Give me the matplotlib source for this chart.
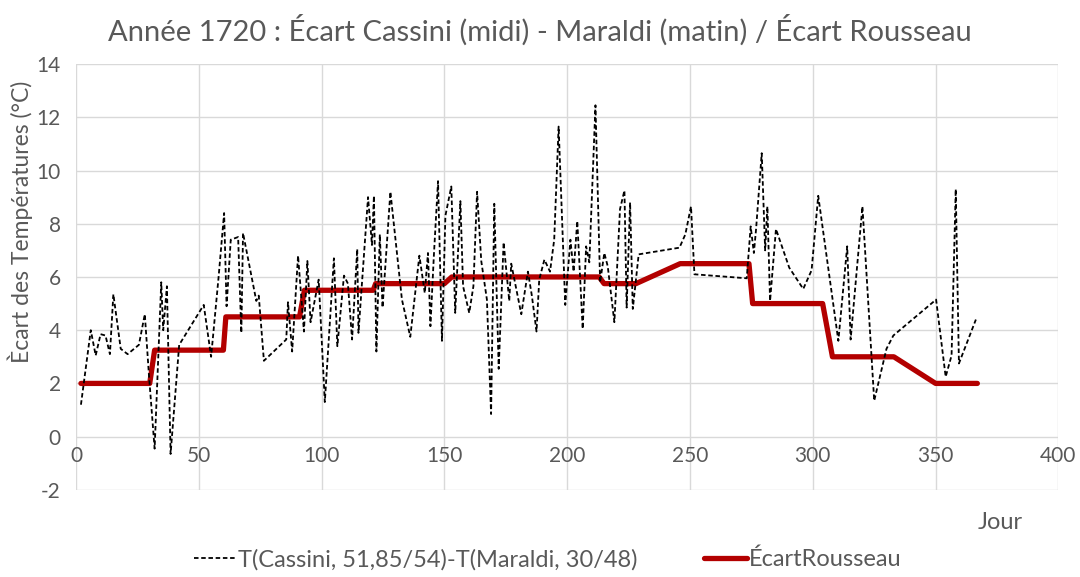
import matplotlib
matplotlib.use('Agg')
import matplotlib.pyplot as plt
import numpy as np

plt.rcParams['font.family'] = ['Lato', 'DejaVu Sans']
plt.rcParams['axes.unicode_minus'] = False

# T(Cassini, midi) - T(Maraldi, matin)
jours_ecart = [2, 6, 8, 10, 12, 13.8, 15.2, 18.2, 21, 25.6, 28, 29.7, 32, 34.7, 35.5, 37, 38.5,
               42, 52, 55, 58, 60.3, 61.3, 63, 66, 67.3, 68, 73.4, 74.4, 76.5, 85.6, 86.3, 88,
               90.4, 92.8, 94.2, 95.5, 98.8, 101.3, 105, 106.4, 109.1, 110.7, 112.4, 114.5, 115,
               118.9, 120.5, 121.3, 122.3, 123.7, 124.8, 128, 132.7, 136.1, 139.8, 142, 143.3,
               144.3, 145.7, 147.4, 149, 150.4, 152.8, 154.4, 156.5, 157.6, 160.1, 161.8, 163.3,
               165, 167.3, 169, 170.3, 172.1, 174.1, 176.4, 177.2, 181.3, 184, 185.6, 187.5,
               188.6, 190.7, 193, 194.7, 196.5, 199.2, 201.3, 202.6, 204.1, 206.3, 207.7, 209,
               211.5, 213.4, 215.1, 216.5, 217.8, 219.2, 221.5, 223.3, 224.2, 225.6, 226.7,
               229.1, 245.7, 248.1, 250.4, 251.8, 273.1, 274.7, 276, 276.9, 279.2, 280.6, 281.5,
               282.6, 285, 290.4, 296.1, 299.5, 302.2, 310.4, 314, 315.4, 320.2, 325, 330, 332.8,
               350.2, 354.1, 356.5, 358.2, 359.5, 366.4]
ecart = [1.2, 4.0, 3.05, 3.85, 3.8, 3.1, 5.35, 3.3, 3.1, 3.45, 4.6, 2.3, -0.45, 5.8, 4.0, 5.65, -0.65,
         3.45, 4.95, 3.0, 5.95, 8.4, 4.9, 7.4, 7.5, 3.9, 7.65, 5.1, 5.3, 2.85, 3.65, 5.05, 3.2,
         6.8, 3.95, 6.6, 4.3, 5.9, 1.3, 6.7, 3.4, 6.05, 5.75, 3.65, 7.05, 3.9,
         9.0, 7.2, 9.05, 3.2, 7.6, 4.85, 9.2, 5.15, 3.75, 6.8, 5.4, 6.9,
         4.15, 6.8, 9.6, 3.6, 8.3, 9.4, 4.65, 8.85, 5.65, 4.65, 5.65, 9.2,
         6.6, 5.15, 0.85, 8.75, 2.55, 7.3, 5.1, 6.5, 4.6, 6.2, 5.3, 3.95,
         5.9, 6.65, 6.2, 7.4, 11.65, 4.95, 7.4, 6.2, 8.1, 4.05, 7.15, 6.55,
         12.45, 5.8, 6.9, 6.4, 5.4, 4.3, 8.55, 9.25, 4.85, 8.8, 4.8,
         6.85, 7.1, 7.6, 8.65, 6.1, 5.95, 7.9, 6.9, 7.8, 10.65, 7.0, 8.65,
         5.1, 7.8, 6.35, 5.55, 6.25, 9.05, 3.6, 7.15, 3.65, 8.65, 1.35, 3.3, 3.8,
         5.15, 2.25, 3.05, 9.3, 2.75, 4.4]

# Ecart Rousseau
jours_rousseau = [2, 30, 32, 60, 61, 91, 93, 121, 122, 150, 153, 213, 215, 228, 246, 274, 275.5,
                  304, 308, 333, 350, 367]
rousseau = [2, 2, 3.25, 3.25, 4.5, 4.5, 5.5, 5.5, 5.75, 5.75, 6, 6, 5.75, 5.75, 6.5, 6.5, 5,
            5, 3, 3, 2, 2]

grey = '#595959'

fig = plt.figure(figsize=(10.8, 5.77), dpi=100)
ax = fig.add_axes([0.0704, 0.151, 0.9096, 0.738])

ax.plot(jours_ecart, ecart, color='black', lw=1.3, ls=(0, (2.5, 1.5)),
        label='T(Cassini, 51,85/54)-T(Maraldi, 30/48)', zorder=3)
ax.plot(jours_rousseau, rousseau, color='#b30000', lw=3.8, solid_capstyle='round',
        solid_joinstyle='round', label='ÉcartRousseau', zorder=2)

ax.set_xlim(0, 400)
ax.set_ylim(-2, 14)
ax.set_xticks(np.arange(0, 401, 50))
ax.set_yticks(np.arange(-2, 15, 2))
ax.grid(True, color='#d9d9d9', lw=1)
ax.set_axisbelow(True)
for s in ax.spines.values():
    s.set_visible(False)
ax.spines['bottom'].set_position(('data', 0))
ax.tick_params(axis='both', length=0, labelsize=15, labelcolor=grey)
ax.tick_params(axis='x', pad=7)
ax.tick_params(axis='y', pad=11)

ax.set_ylabel('Ècart des Températures (°C)', fontsize=16.5, color=grey)
ax.yaxis.set_label_coords(-0.044, 0.63)
fig.text(0.926, 0.095, 'Jour', fontsize=17, color=grey, ha='center', va='center')
fig.suptitle('Année 1720 : Écart Cassini (midi) - Maraldi (matin) / Écart Rousseau',
             fontsize=21, color=grey, y=0.948, va='center')

leg = fig.legend(loc='center', bbox_to_anchor=(0.507, 0.03), ncol=2, frameon=False,
                 fontsize=17, handlelength=1.8, columnspacing=2.8, handletextpad=0.1)
for t in leg.get_texts():
    t.set_color(grey)

fig.savefig('out.png', dpi=100)
